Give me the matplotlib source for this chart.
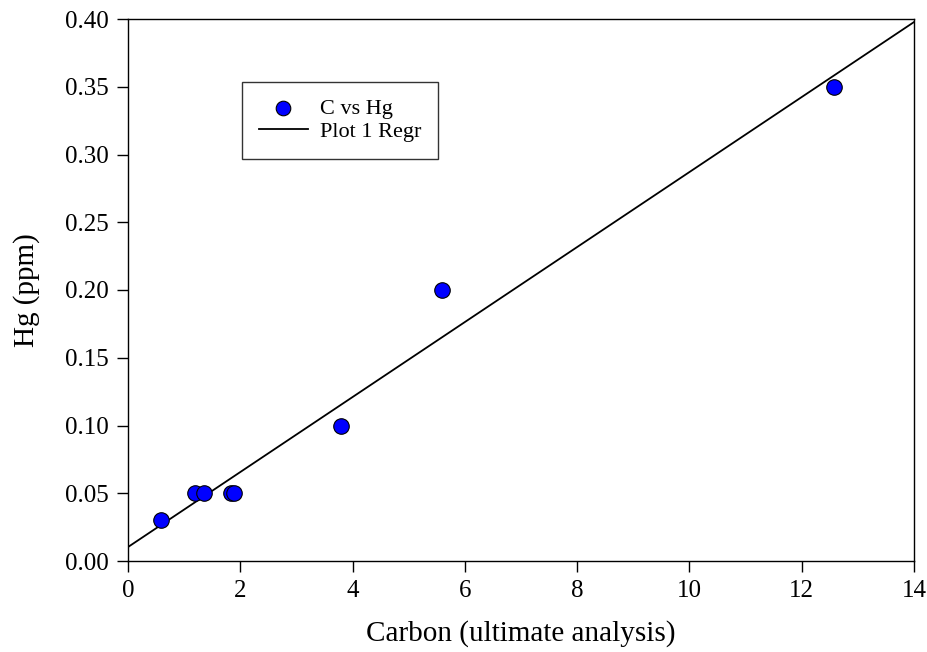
import numpy as np
import matplotlib
matplotlib.use("Agg")
import matplotlib.pyplot as plt

carbon = [0.58, 1.20, 1.36, 1.83, 1.88, 3.80, 5.59, 12.58]
hg = [0.03, 0.05, 0.05, 0.05, 0.05, 0.10, 0.20, 0.35]
xticks = [0, 2, 4, 6, 8, 10, 12, 14]
yticks = [0.00, 0.05, 0.10, 0.15, 0.20, 0.25, 0.30, 0.35, 0.40]

plt.rcParams['font.family'] = ['Liberation Serif', 'DejaVu Serif']

fig = plt.figure(figsize=(9.28, 6.52), dpi=100)
ax = fig.add_axes([128/928, 1 - 561/652, 786/928, 542/652])

slope, intercept = np.polyfit(carbon, hg, 1)
xr = np.array([0, 14])
ax.plot(xr, intercept + slope * xr, color='black', lw=1.3, label='Plot 1 Regr', zorder=2)
ax.scatter(carbon, hg, s=125, color='#0000ff', edgecolor='black', linewidth=0.8,
           label='C vs Hg', zorder=3)

ax.set_xlim(0, 14)
ax.set_ylim(0, 0.40)
ax.set_xticks(xticks)
ax.set_xticklabels([str(t) for t in xticks])
ax.set_yticks(yticks)
ax.set_yticklabels([f"{t:.2f}" for t in yticks])
ax.tick_params(direction='out', length=8, width=1, labelsize=18, pad=6)
for s in ax.spines.values():
    s.set_linewidth(1)

ax.set_xlabel('Carbon (ultimate analysis)', fontsize=21, labelpad=13)
ax.set_ylabel('Hg (ppm)', fontsize=21, labelpad=18)

handles, labels = ax.get_legend_handles_labels()
leg = ax.legend(handles[::-1], labels[::-1], loc='upper left',
                bbox_to_anchor=(114/786, 479/542), borderaxespad=0,
                fontsize=16, fancybox=False, frameon=True, edgecolor='black',
                handlelength=2.2, borderpad=0.75, labelspacing=0.1, handletextpad=0.55,
                scatterpoints=1)
leg.get_frame().set_linewidth(1)
leg.legend_handles[0].set_sizes([110])

fig.savefig('out.png', dpi=100)
